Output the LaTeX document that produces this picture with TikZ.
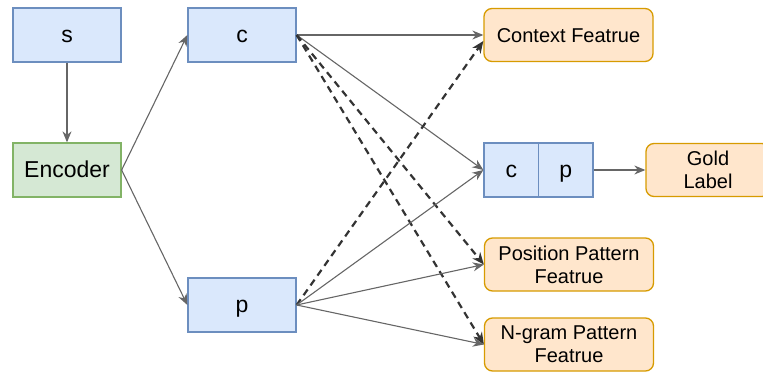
\documentclass[tikz,border=0pt]{standalone}
\usepackage{fontspec}
\setmainfont{Liberation Sans}
\usetikzlibrary{arrows.meta}
\definecolor{blueFill}{HTML}{DAE8FC}
\definecolor{blueLine}{HTML}{6C8EBF}
\definecolor{greenFill}{HTML}{D5E8D4}
\definecolor{greenLine}{HTML}{82B366}
\definecolor{orangeFill}{HTML}{FFE6CC}
\definecolor{orangeLine}{HTML}{D79B00}
\definecolor{wireGray}{HTML}{666666}
\definecolor{dashDark}{HTML}{333333}

\begin{document}
\begin{tikzpicture}[x=1pt,y=1pt,
  box/.style={draw, line width=1.3pt, minimum width=108pt, minimum height=54pt,
    inner sep=0pt, font=\fontsize{23}{27}\selectfont,
    text height=20.8pt, text depth=4.9pt},
  varbox/.style={box, fill=blueFill, draw=blueLine},
  encbox/.style={box, fill=greenFill, draw=greenLine},
  halfbox/.style={varbox, minimum width=54.5pt},
  feat/.style={draw=orangeLine, fill=orangeFill, line width=1.3pt, rounded corners=8pt,
    minimum width=169pt, minimum height=53pt, inner sep=0pt, align=center,
    font=\fontsize{20}{23.3}\selectfont},
  oneline/.style={text height=18.6pt, text depth=3.6pt},
  flow/.style={draw=wireGray, line width=1.1pt, -{Stealth[length=11pt,width=9pt]}},
  cue/.style={draw=dashDark, line width=2.2pt, dash pattern=on 7pt off 5pt,
    -{Stealth[length=12pt,width=10pt]}},
]
\useasboundingbox (0,0) rectangle (763,-372);
\clip (0,0) rectangle (763,-372);

% inputs and encoder
\node[varbox] (s) at (67,-35) {s};
\node[encbox] (enc) at (67,-170) {Encoder};
\node[varbox] (c) at (242,-35) {c};
\node[varbox] (p) at (242,-305) {p};

% feature targets
\node[feat, oneline] (ctx) at (568.5,-35) {Context Featrue};
\node[halfbox] (cpc) at (511.25,-170) {c};
\node[halfbox] (cpp) at (565.75,-170) {p};
\node[feat, minimum width=124pt] (gold) at (708,-170) {Gold\\Label};
\node[feat] (pos) at (569,-264.5) {Position Pattern\\Featrue};
\node[feat] (ngram) at (569,-344.5) {N-gram Pattern\\Featrue};

% connectors
\draw[flow] (s) -- (enc);
\draw[flow] (enc.east) -- (c.west);
\draw[flow] (enc.east) -- (p.west);
\draw[flow] (c.east) -- (ctx.west);
\draw[flow] (c.east) -- (cpc.west);
\draw[cue] (c.east) -- (pos.west);
\draw[cue] (c.east) -- (ngram.west);
\draw[cue] (p.east) -- ([yshift=-6pt]ctx.west);
\draw[flow] (p.east) -- (cpc.west);
\draw[flow] (p.east) -- (pos.west);
\draw[flow] (p.east) -- (ngram.west);
\draw[flow] (cpp.east) -- (gold.west);
\end{tikzpicture}
\end{document}
